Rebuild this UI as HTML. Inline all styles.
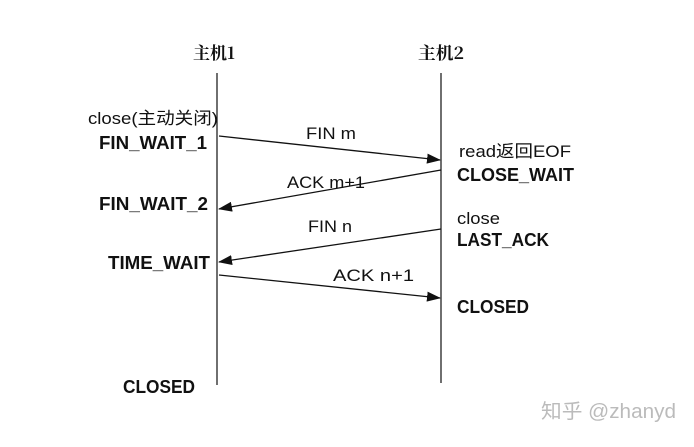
<!DOCTYPE html>
<html><head><meta charset="utf-8"><style>
body{margin:0;background:#fff;}
svg text{font-family:"Liberation Sans","Noto Sans CJK SC",sans-serif;fill:#111;}
.b{font-weight:bold;font-size:18px;}
.n{font-size:17px;}
</style></head><body>
<svg width="694" height="442" viewBox="0 0 694 442" xmlns="http://www.w3.org/2000/svg">
<defs><marker id="a" markerWidth="14" markerHeight="10" refX="13" refY="5" orient="auto" markerUnits="userSpaceOnUse"><path d="M0,0 L14,5 L0,10 Z" fill="#111"/></marker></defs>
<line x1="217" y1="73" x2="217" y2="385" stroke="#222" stroke-width="1.3"/>
<line x1="441" y1="73" x2="441" y2="383" stroke="#222" stroke-width="1.3"/>
<line x1="219" y1="136" x2="440" y2="160" stroke="#111" stroke-width="1.3" marker-end="url(#a)"/>
<line x1="441" y1="170" x2="219" y2="209" stroke="#111" stroke-width="1.3" marker-end="url(#a)"/>
<line x1="441" y1="229" x2="219" y2="262" stroke="#111" stroke-width="1.3" marker-end="url(#a)"/>
<line x1="219" y1="275" x2="440" y2="298" stroke="#111" stroke-width="1.3" marker-end="url(#a)"/>
<text x="193" y="59" textLength="42" lengthAdjust="spacingAndGlyphs" style="font-family:'Noto Serif CJK SC','Liberation Serif',serif;font-size:17px;font-weight:bold">主机1</text>
<text x="418" y="59" textLength="46" lengthAdjust="spacingAndGlyphs" style="font-family:'Noto Serif CJK SC','Liberation Serif',serif;font-size:17px;font-weight:bold">主机2</text>
<text x="88" y="124" class="n" textLength="130" lengthAdjust="spacingAndGlyphs">close(主动关闭)</text>
<text x="99" y="149" class="b" textLength="108" lengthAdjust="spacingAndGlyphs">FIN_WAIT_1</text>
<text x="306" y="139" class="n" textLength="50" lengthAdjust="spacingAndGlyphs">FIN m</text>
<text x="459" y="157" class="n" textLength="112" lengthAdjust="spacingAndGlyphs">read返回EOF</text>
<text x="457" y="181" class="b" textLength="117" lengthAdjust="spacingAndGlyphs">CLOSE_WAIT</text>
<text x="287" y="188" class="n" textLength="78" lengthAdjust="spacingAndGlyphs">ACK m+1</text>
<text x="99" y="210" class="b" textLength="109" lengthAdjust="spacingAndGlyphs">FIN_WAIT_2</text>
<text x="457" y="224" class="n" textLength="43" lengthAdjust="spacingAndGlyphs">close</text>
<text x="457" y="246" class="b" textLength="92" lengthAdjust="spacingAndGlyphs">LAST_ACK</text>
<text x="308" y="232" class="n" textLength="44" lengthAdjust="spacingAndGlyphs">FIN n</text>
<text x="108" y="269" class="b" textLength="102" lengthAdjust="spacingAndGlyphs">TIME_WAIT</text>
<text x="333" y="281" class="n" textLength="81" lengthAdjust="spacingAndGlyphs">ACK n+1</text>
<text x="457" y="313" class="b" textLength="72" lengthAdjust="spacingAndGlyphs">CLOSED</text>
<text x="123" y="393" class="b" textLength="72" lengthAdjust="spacingAndGlyphs">CLOSED</text>
<text x="541" y="418" textLength="135" lengthAdjust="spacingAndGlyphs" style="font-size:20px;fill:#bbb">知乎 @zhanyd</text>
</svg>
</body></html>
